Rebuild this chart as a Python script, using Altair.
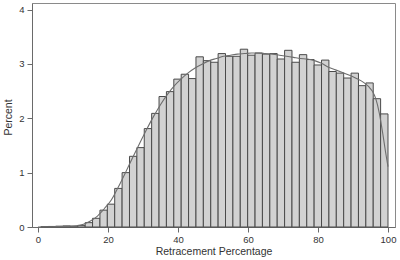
import altair as alt
import pandas as pd

# Histogram: 47 bins of equal width ending at 100
BIN_WIDTH = 2.11
BIN_END = 100.0
percent = [0.005, 0.01, 0.015, 0.02, 0.015, 0.03, 0.08, 0.16, 0.31, 0.42,
           0.71, 1.00, 1.30, 1.46, 1.81, 2.09, 2.40, 2.49, 2.72, 2.81,
           2.73, 3.13, 3.06, 3.03, 3.19, 3.14, 3.14, 3.27, 3.16, 3.20,
           3.18, 3.19, 3.09, 3.25, 3.03, 3.17, 3.08, 2.98, 3.07, 2.86,
           2.83, 2.74, 2.83, 2.60, 2.65, 2.36, 2.08]

# Density curve
curve_x = [0, 4, 8, 11, 13, 15, 17, 19, 21, 23, 25, 27, 29, 31, 33, 35, 37, 39,
           41, 43, 45, 47, 49, 51, 53, 55, 57, 59, 61, 63, 65, 67, 69, 71, 73,
           75, 77, 79, 81, 83, 85, 87, 89, 91, 93, 94.5, 95.5, 96.5, 97.5, 98.5,
           99.3, 100]
curve_y = [0, 0.005, 0.012, 0.02, 0.05, 0.11, 0.2, 0.34, 0.5, 0.74, 1.0, 1.27,
           1.53, 1.79, 2.03, 2.25, 2.44, 2.6, 2.73, 2.84, 2.93, 3.0, 3.06, 3.1,
           3.14, 3.16, 3.18, 3.19, 3.2, 3.2, 3.19, 3.18, 3.16, 3.14, 3.12, 3.1,
           3.09, 3.06, 3.01, 2.94, 2.89, 2.84, 2.79, 2.73, 2.66, 2.58, 2.5, 2.36,
           2.1, 1.72, 1.38, 1.11]

n = len(percent)
bars = pd.DataFrame({
    "start": [BIN_END - BIN_WIDTH * (n - i) for i in range(n)],
    "end": [BIN_END - BIN_WIDTH * (n - i - 1) for i in range(n)],
    "pct": percent,
})
curve = pd.DataFrame({"x": curve_x, "y": curve_y})

xscale = alt.Scale(domain=[-1.7, 102], nice=False, zero=False)
yscale = alt.Scale(domain=[0, 4.12], nice=False)

xaxis = alt.Axis(title="Retracement Percentage", values=[0, 20, 40, 60, 80, 100],
                 format="d", grid=False, tickSize=5, labelPadding=2, titlePadding=3)
yaxis = alt.Axis(title="Percent", values=[0, 1, 2, 3, 4], format="d", grid=False,
                 tickSize=5, labelPadding=3, titleX=-19, titleY=114)

hist = alt.Chart(bars).mark_rect(
    fill="#d2d2d2", stroke="#4a4a4a", strokeWidth=1
).encode(
    x=alt.X("start:Q", scale=xscale, axis=xaxis),
    x2="end:Q",
    y=alt.Y("pct:Q", scale=yscale, axis=yaxis),
    y2=alt.datum(0),
)

line = alt.Chart(curve).mark_line(
    color="#6e6e6e", strokeWidth=1.1, interpolate="monotone"
).encode(
    x=alt.X("x:Q", scale=xscale),
    y=alt.Y("y:Q", scale=yscale),
)

chart = alt.layer(hist, line).properties(
    width=363, height=224,
    padding={"left": 32, "top": 3, "right": 5, "bottom": 33},
    autosize="none",
    background="white",
).configure_view(
    stroke="#8a8a8a", strokeWidth=1
).configure_axis(
    domainColor="#6a6a6a", tickColor="#6a6a6a",
    labelFont="Liberation Sans", titleFont="Liberation Sans",
    labelFontSize=9.5, titleFontSize=10.5, labelColor="#333333",
    titleColor="#333333", titleFontWeight="normal",
)

chart.save("out.html", embed_options={"renderer": "svg", "actions": False})
